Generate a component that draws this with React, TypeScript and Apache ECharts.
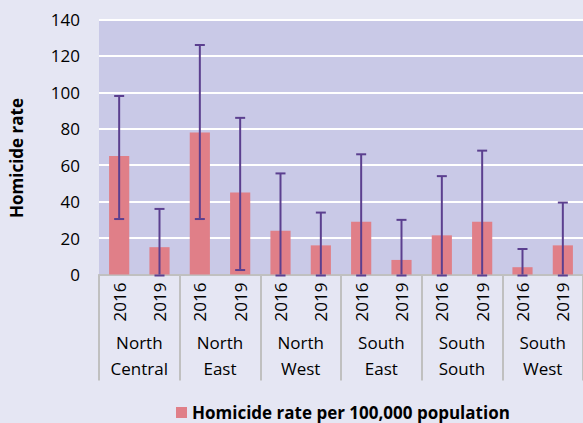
import React, { useEffect, useRef } from "react";
import * as echarts from "echarts";

const years = ["2016", "2019", "2016", "2019", "2016", "2019", "2016", "2019", "2016", "2019", "2016", "2019"];
const regions = ["North\nCentral", "North\nEast", "North\nWest", "South\nEast", "South\nSouth", "South\nWest"];
const rates = [65, 15, 78, 45, 24, 16, 29, 8, 21.5, 29, 4, 16];
const lowerBounds = [31, 0, 31, 3, 0, 0, 0, 0, 0, 0, 0, 0];
const upperBounds = [98, 36, 126, 86, 55.5, 34, 66, 30, 54, 68, 14, 39.5];
const yTicks = { min: 0, max: 140, interval: 20 };
const seriesName = "Homicide rate per 100,000 population";
const yName = "Homicide rate";

const FONT = "Open Sans";

export default function App() {
  const ref = useRef<HTMLDivElement>(null);
  useEffect(() => {
    if (!ref.current) return;
    const chart = echarts.init(ref.current, null, { renderer: "svg" });
    const errData = rates.map((_, i) => [i, lowerBounds[i], upperBounds[i]]);
    chart.setOption({
      animation: false,
      backgroundColor: "#e5e6f3",
      textStyle: { fontFamily: FONT },
      grid: {
        left: 98,
        right: 0,
        top: 19.5,
        bottom: 148.5,
        show: true,
        backgroundColor: "#c9c9e7",
        borderWidth: 0,
      },
      legend: {
        left: 176,
        top: 404,
        padding: 0,
        itemWidth: 11,
        itemHeight: 11,
        itemGap: 6,
        data: [{ name: seriesName, icon: "rect" }],
        textStyle: { fontFamily: FONT, fontWeight: "bold", fontSize: 17, color: "#000", padding: [0, 0, 0, 0] },
      },
      xAxis: [
        {
          type: "category",
          data: years,
          position: "bottom",
          axisLine: { show: true, lineStyle: { color: "#c0c0c0", width: 2 } },
          axisTick: { show: false },
          axisLabel: {
            interval: 0,
            rotate: 90,
            margin: 8,
            fontFamily: FONT,
            fontSize: 17,
            color: "#000",
          },
        },
        {
          type: "category",
          data: regions,
          position: "bottom",
          axisLine: { show: false },
          axisTick: {
            show: true,
            interval: 0,
            length: 106,
            lineStyle: { color: "#c0c0c0", width: 2 },
          },
          axisLabel: {
            interval: 0,
            margin: 55,
            fontFamily: FONT,
            fontSize: 17,
            lineHeight: 26,
            color: "#000",
          },
        },
      ],
      yAxis: {
        type: "value",
        min: yTicks.min,
        max: yTicks.max,
        interval: yTicks.interval,
        name: yName,
        nameLocation: "middle",
        nameGap: 74,
        nameRotate: 90,
        nameTextStyle: {
          fontFamily: FONT,
          fontWeight: "bold",
          fontSize: 17,
          color: "#000",
          padding: [0, 22, 0, 0],
        },
        axisLine: { show: false },
        axisTick: { show: false },
        splitLine: { show: true, lineStyle: { color: "#ffffff", width: 2 } },
        axisLabel: { margin: 19, fontFamily: FONT, fontSize: 17, color: "#000" },
      },
      series: [
        {
          name: seriesName,
          type: "bar",
          xAxisIndex: 0,
          barWidth: "50%",
          itemStyle: { color: "#e07f88" },
          data: rates,
        },
        {
          type: "custom",
          xAxisIndex: 0,
          clip: false,
          z: 5,
          renderItem: (params: any, api: any) => {
            const idx = api.value(0);
            const lo = api.coord([idx, api.value(1)]);
            const hi = api.coord([idx, api.value(2)]);
            const hw = 5;
            const style = { stroke: "#5b3f8f", lineWidth: 2 };
            return {
              type: "group",
              children: [
                { type: "line", shape: { x1: hi[0], y1: hi[1], x2: lo[0], y2: lo[1] }, style },
                { type: "line", shape: { x1: hi[0] - hw, y1: hi[1], x2: hi[0] + hw, y2: hi[1] }, style },
                { type: "line", shape: { x1: lo[0] - hw, y1: lo[1] + 1, x2: lo[0] + hw, y2: lo[1] + 1 }, style },
              ],
            };
          },
          encode: { x: 0, y: [1, 2] },
          data: errData,
        },
      ],
    });
    return () => chart.dispose();
  }, []);
  return <div ref={ref} style={{ position: "fixed", left: 0, top: 0, width: 583, height: 423 }} />;
}
